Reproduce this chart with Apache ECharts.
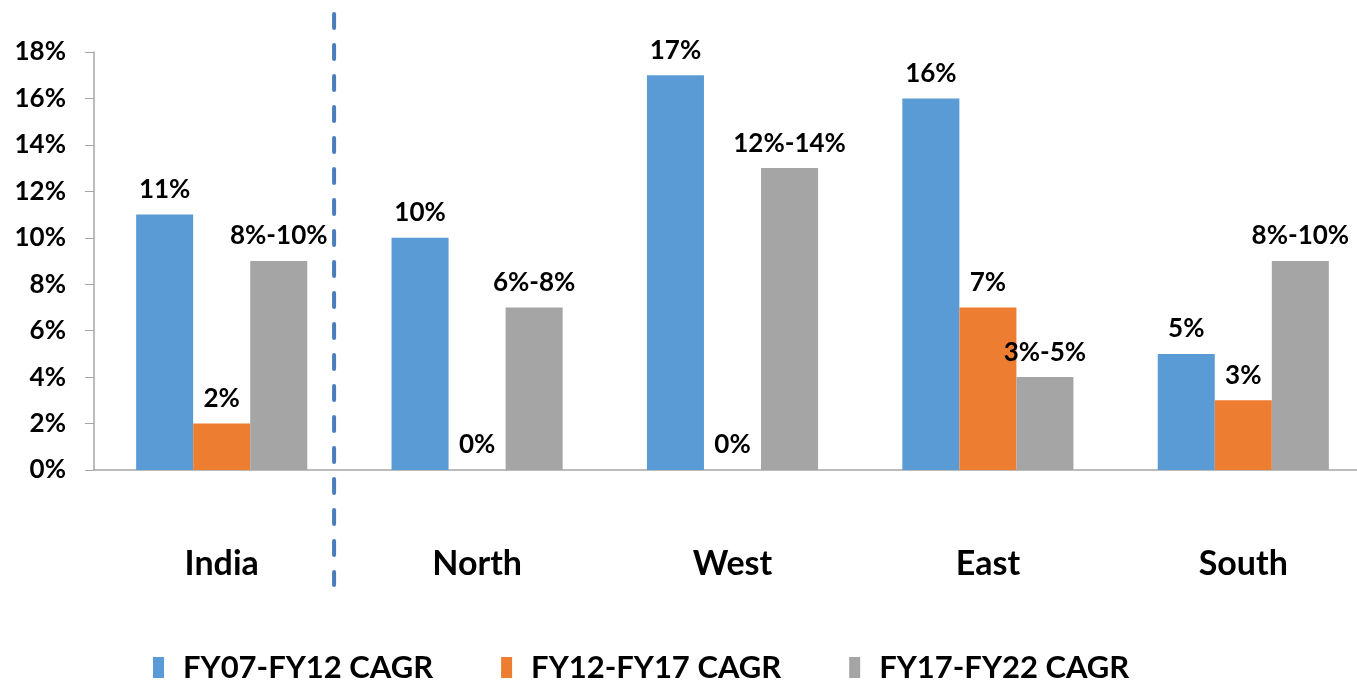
<!DOCTYPE html>
<html>
<head>
<meta charset="utf-8">
<script src="https://cdn.jsdelivr.net/npm/echarts@6/dist/echarts.min.js"></script>
<style>
  html, body { margin: 0; padding: 0; background: #fff; }
  #chart { width: 1357px; height: 682px; }
</style>
</head>
<body>
<div id="chart"></div>
<script>
const regions = ['India', 'North', 'West', 'East', 'South']
const cagr0712 = [11, 10, 17, 16, 5]
const cagr1217 = [2, 0, 0, 7, 3]
const cagr1722 = [9, 7, 13, 4, 9]
// labels shown on the grey bars are ranges
const cagr1722Labels = ['8%-10%', '6%-8%', '12%-14%', '3%-5%', '8%-10%']
const seriesNames = ['FY07-FY12 CAGR', 'FY12-FY17 CAGR', 'FY17-FY22 CAGR']

const font = 'Lato, "Open Sans", sans-serif'
const chart = echarts.init(document.getElementById('chart'))

function barLabel(formatter) {
  return {
    show: true,
    position: 'top',
    distance: 12,
    color: '#000',
    fontFamily: font,
    fontWeight: 'bold',
    fontSize: 26,
    formatter: formatter,
  }
}

const option = {
  animation: false,
  backgroundColor: '#fff',
  grid: {
    left: 94,
    right: -14,
    top: 52,
    bottom: 212,
    outerBoundsMode: 'none',
  },
  legend: {
    bottom: -6,
    left: 148,
    itemWidth: 11,
    itemHeight: 21,
    itemGap: 68,
    icon: 'rect',
    textStyle: {
      color: '#000',
      fontFamily: font,
      fontWeight: 'bold',
      fontSize: 31,
      padding: [0, 0, 0, 14],
    },
    data: seriesNames,
  },
  xAxis: {
    type: 'category',
    data: regions,
    axisLine: { lineStyle: { color: '#a6a6a6', width: 1.5 } },
    axisTick: { show: false },
    axisLabel: {
      margin: 77,
      color: '#000',
      fontFamily: font,
      fontWeight: 'bold',
      fontSize: 34,
    },
  },
  yAxis: {
    type: 'value',
    min: 0,
    max: 18,
    interval: 2,
    axisLine: { show: true, lineStyle: { color: '#a6a6a6', width: 1.5 } },
    axisTick: { show: true, length: 9, lineStyle: { color: '#a6a6a6' } },
    splitLine: { show: false },
    axisLabel: {
      margin: 28,
      color: '#000',
      fontFamily: font,
      fontWeight: 'bold',
      fontSize: 26,
      formatter: '{value}%',
    },
  },
  series: [
    {
      name: seriesNames[0],
      type: 'bar',
      data: cagr0712,
      barGap: 0,
      barCategoryGap: '33%',
      itemStyle: { color: '#5b9bd5' },
      label: barLabel('{c}%'),
    },
    {
      name: seriesNames[1],
      type: 'bar',
      data: cagr1217,
      barGap: 0,
      barCategoryGap: '33%',
      itemStyle: { color: '#ed7d31' },
      label: barLabel('{c}%'),
    },
    {
      name: seriesNames[2],
      type: 'bar',
      data: cagr1722,
      barGap: 0,
      barCategoryGap: '33%',
      itemStyle: { color: '#a5a5a5' },
      label: barLabel(p => cagr1722Labels[p.dataIndex]),
    },
  ],
}

chart.setOption(option)

// dashed divider between India and the regions
const xIndia = chart.convertToPixel({ xAxisIndex: 0 }, 0)
const xNorth = chart.convertToPixel({ xAxisIndex: 0 }, 1)
const xDiv = xIndia + (xNorth - xIndia) * 0.44
chart.setOption({
  graphic: [
    {
      type: 'line',
      shape: { x1: xDiv, y1: 14, x2: xDiv, y2: 585 },
      style: { stroke: '#4a7ebb', lineWidth: 4, lineDash: [14, 17], lineCap: 'round' },
      z: 10,
    },
  ],
})
</script>
</body>
</html>
